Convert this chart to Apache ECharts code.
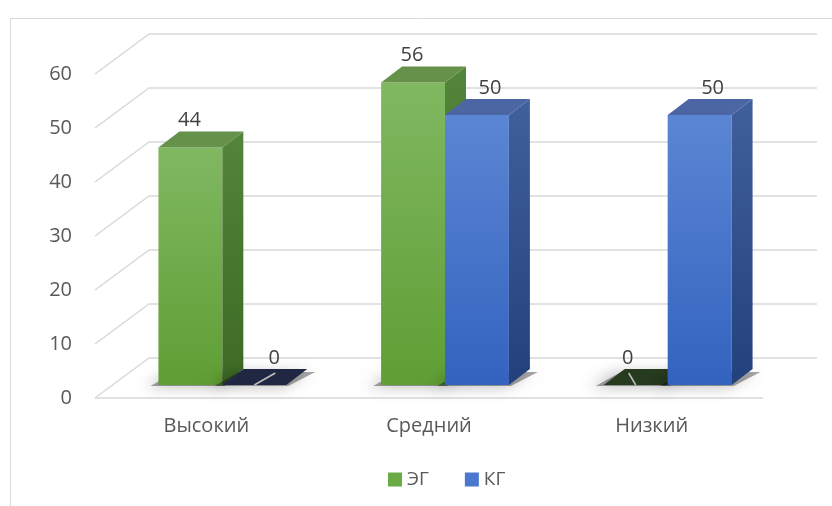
<!DOCTYPE html>
<html>
<head>
<meta charset="utf-8">
<script src="https://cdn.jsdelivr.net/npm/echarts@6/dist/echarts.min.js"></script>
<style>html,body{margin:0;padding:0;background:#fff;}#c{width:832px;height:506px;}</style>
</head>
<body>
<div id="c"></div>
<script>
var categories = ['Высокий', 'Средний', 'Низкий'];
var seriesNames = ['ЭГ', 'КГ'];
var egValues = [44, 56, 0];
var kgValues = [0, 50, 50];
var yTicks = [0, 10, 20, 30, 40, 50, 60];

var FONT = '"Open Sans", "Noto Sans", sans-serif';
var DX = 54, DY = -40;          // wall depth
var OFFX = 16, OFFY = -13;      // bar front-face depth
var BDX = 21, BDY = -16;        // bar depth
var WFRAC = 0.287;

var palettes = [
  {front: ['#80b861', '#5f9e34'], side: ['#53853a', '#3d6a25'], top: '#66914a', zero: '#263a1d', legend: '#6aab45'},
  {front: ['#5b86d4', '#3363bf'], side: ['#40609c', '#22407c'], top: '#4b66a3', zero: '#1f2743', legend: '#4a78cf'}
];

function frameRender(params, api) {
  var v = api.value(0);
  var c = api.coord([0, v]);
  var bw = api.size([1, 0])[0];
  var xl = c[0] - bw / 2, xr = xl + 3 * bw, y = c[1];
  var st = {stroke: '#d9d9d9', lineWidth: 1.5, fill: null};
  var ch = [{type: 'polyline', shape: {points: [[xl, y], [xl + DX, y + DY], [xr + DX, y + DY]]}, style: st, silent: true}];
  if (v === 0) ch.push({type: 'line', shape: {x1: xl, y1: y, x2: xr, y2: y}, style: st, silent: true});
  return {type: 'group', children: ch};
}

function makeBarRender(s) {
  var pal = palettes[s];
  return function (params, api) {
    var i = api.value(0), v = api.value(1);
    var p0 = api.coord([i, 0]), p1 = api.coord([i, v]);
    var bw = api.size([1, 0])[0];
    var w = bw * WFRAC;
    var x0 = p0[0] + OFFX - w + s * w, x1 = x0 + w;
    var yb = p0[1] + OFFY, yt = p1[1] + OFFY;
    var fc = (x0 + x1) / 2;
    var ch = [];
    // soft shadow
    ch.push({type: 'polygon', silent: true, shape: {points: [[x0 - 8, yb + 1], [x1 + 2, yb + 1], [x1 + BDX + 8, yb + BDY + 3], [x0 + BDX - 4, yb + BDY + 3]]},
      style: {fill: 'rgba(0,0,0,0.35)', shadowBlur: 14, shadowColor: 'rgba(0,0,0,0.75)', shadowOffsetX: -6, shadowOffsetY: 1}});
    if (v > 0) {
      ch.push({type: 'rect', shape: {x: x0, y: yt, width: w, height: yb - yt},
        style: {fill: new echarts.graphic.LinearGradient(0, 0, 0, 1, [{offset: 0, color: pal.front[0]}, {offset: 1, color: pal.front[1]}])}});
      ch.push({type: 'polygon', shape: {points: [[x1, yb], [x1 + BDX, yb + BDY], [x1 + BDX, yt + BDY], [x1, yt]]},
        style: {fill: new echarts.graphic.LinearGradient(0, 0, 0, 1, [{offset: 0, color: pal.side[0]}, {offset: 1, color: pal.side[1]}])}});
      ch.push({type: 'polygon', shape: {points: [[x0, yt], [x1, yt], [x1 + BDX, yt + BDY], [x0 + BDX, yt + BDY]]},
        style: {fill: pal.top}});
    } else {
      ch.push({type: 'polygon', shape: {points: [[x0, yt], [x1, yt], [x1 + BDX, yt + BDY], [x0 + BDX, yt + BDY]]},
        style: {fill: pal.zero}});
    }
    var lx = fc + (s === 0 ? -1 : 13) + (v === 0 ? (s === 0 ? -7 : 7) : 0);
    if (v === 0) {
      ch.push({type: 'line', silent: true, shape: {x1: fc, y1: yb, x2: lx + 1, y2: yb - 12}, style: {stroke: '#bfbfbf', lineWidth: 1.5}});
    }
    ch.push({type: 'text', silent: true, style: {text: String(v), x: lx, y: yt - 27, align: 'center', verticalAlign: 'middle',
      fill: '#404040', font: '20px ' + FONT}});
    return {type: 'group', children: ch};
  };
}

function pairs(vals) { return vals.map(function (v, i) { return [i, v]; }); }

var chart = echarts.init(document.getElementById('c'), null, {renderer: 'canvas'});
chart.setOption({
  backgroundColor: '#ffffff',
  animation: false,
  graphic: [{type: 'rect', shape: {x: 10.5, y: 18.5, width: 900, height: 600}, style: {fill: null, stroke: '#d9d9d9', lineWidth: 1}, silent: true, z: -10}],
  grid: {left: 95, right: 69, top: 74, bottom: 108},
  legend: {
    data: seriesNames, left: 383, top: 465, itemWidth: 14, itemHeight: 14, itemGap: 36, icon: 'rect',
    textStyle: {fontFamily: FONT, fontSize: 19, color: '#595959'}
  },
  xAxis: {
    type: 'category', data: categories,
    axisLine: {show: false}, axisTick: {show: false}, splitLine: {show: false},
    axisLabel: {margin: 18, fontFamily: FONT, fontSize: 20, color: '#595959'}
  },
  yAxis: {
    type: 'value', min: 0, max: 60, interval: 10,
    axisLine: {show: false}, axisTick: {show: false}, splitLine: {show: false},
    axisLabel: {margin: 23, fontFamily: FONT, fontSize: 20, color: '#595959'}
  },
  series: [
    {type: 'custom', name: '_frame', data: yTicks.map(function (t) { return [t]; }), renderItem: frameRender, silent: true, z: 1,
      encode: {y: 0}},
    {type: 'custom', name: seriesNames[0], data: pairs(egValues), renderItem: makeBarRender(0), z: 2,
      itemStyle: {color: palettes[0].legend}, encode: {x: 0, y: 1}},
    {type: 'custom', name: seriesNames[1], data: pairs(kgValues), renderItem: makeBarRender(1), z: 3,
      itemStyle: {color: palettes[1].legend}, encode: {x: 0, y: 1}}
  ]
});
</script>
</body>
</html>
